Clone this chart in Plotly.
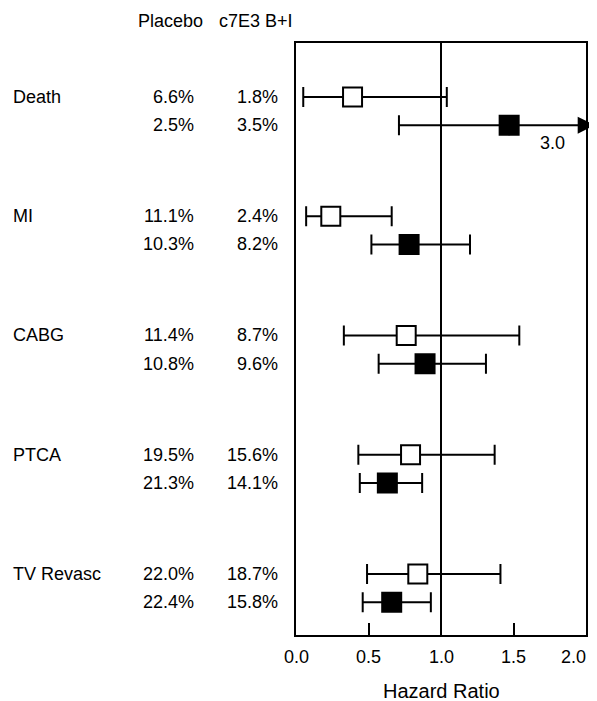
import plotly.graph_objects as go

# ---- data ----
outcomes = ["Death", "MI", "CABG", "PTCA", "TV Revasc"]
placebo_a = ["6.6%", "11.1%", "11.4%", "19.5%", "22.0%"]
c7e3_a = ["1.8%", "2.4%", "8.7%", "15.6%", "18.7%"]
placebo_b = ["2.5%", "10.3%", "10.8%", "21.3%", "22.4%"]
c7e3_b = ["3.5%", "8.2%", "9.6%", "14.1%", "15.8%"]

hr_open = [0.39, 0.24, 0.76, 0.79, 0.84]
lo_open = [0.05, 0.07, 0.33, 0.43, 0.49]
hi_open = [1.04, 0.66, 1.54, 1.37, 1.41]

hr_fill = [1.47, 0.78, 0.89, 0.63, 0.66]
lo_fill = [0.71, 0.52, 0.57, 0.44, 0.46]
hi_fill = [3.0, 1.20, 1.31, 0.87, 0.93]

tick_vals = [0.0, 0.5, 1.0, 1.5, 2.0]
tick_text = ["0.0", "0.5", "1.0", "1.5", "2.0"]
x_max = 2.0

FONT = "Liberation Sans, Arial, Helvetica, sans-serif"
FS = 18
TXT = dict(family=FONT, size=FS, color="black")

n = len(outcomes)
y_open = [i for i in range(n)]
y_fill = [i + 0.2365 for i in range(n)]

fig = go.Figure()

# reference line at HR = 1
fig.add_shape(type="line", xref="x", yref="paper", x0=1.0, x1=1.0, y0=0, y1=1,
              line=dict(color="black", width=2), layer="below")

# open squares (first row of each outcome)
fig.add_trace(go.Scatter(
    x=hr_open, y=y_open, mode="markers",
    marker=dict(symbol="square", size=19, color="white", line=dict(color="black", width=2)),
    error_x=dict(type="data", symmetric=False,
                 array=[h - m for h, m in zip(hi_open, hr_open)],
                 arrayminus=[m - l for l, m in zip(lo_open, hr_open)],
                 color="black", thickness=2, width=10),
    showlegend=False, hoverinfo="skip"))

# filled squares (second row)
up = [(h - m) if h <= x_max else 0 for h, m in zip(hi_fill, hr_fill)]
fig.add_trace(go.Scatter(
    x=hr_fill, y=y_fill, mode="markers",
    marker=dict(symbol="square", size=19, color="black", line=dict(color="black", width=2)),
    error_x=dict(type="data", symmetric=False,
                 array=up,
                 arrayminus=[m - l for l, m in zip(lo_fill, hr_fill)],
                 color="black", thickness=2, width=10),
    showlegend=False, hoverinfo="skip"))

annotations = []
# arrows for CIs beyond axis + value label
for i, (h, m) in enumerate(zip(hi_fill, hr_fill)):
    if h > x_max:
        annotations.append(dict(x=x_max * 1.03, y=y_fill[i], xref="x", yref="y",
                                ax=m, ay=y_fill[i], axref="x", ayref="y",
                                text="", showarrow=True, arrowhead=2, arrowsize=1.7,
                                arrowwidth=2, arrowcolor="black", standoff=0, startstandoff=0))
        annotations.append(dict(x=1.77, y=y_fill[i], xref="x", yref="y", yshift=-18,
                                text=f"{h:.1f}", showarrow=False, yanchor="middle", font=TXT))

# left-hand table
for i in range(n):
    annotations.append(dict(x=-0.974, y=y_open[i], xref="paper", yref="y", text=outcomes[i],
                            showarrow=False, xanchor="left", yanchor="middle", xshift=-3, font=TXT))
    for xp, txt, yy in [(-0.3545, placebo_a[i], y_open[i]), (-0.0668, c7e3_a[i], y_open[i]),
                        (-0.3545, placebo_b[i], y_fill[i]), (-0.0668, c7e3_b[i], y_fill[i])]:
        annotations.append(dict(x=xp, y=yy, xref="paper", yref="y", text=txt,
                                showarrow=False, xanchor="right", yanchor="middle", xshift=3, font=TXT))

# headers
annotations.append(dict(x=-0.5428, y=1.037, xref="paper", yref="paper", text="Placebo",
                        showarrow=False, xanchor="left", yanchor="middle", xshift=-3, font=TXT))
annotations.append(dict(x=-0.262, y=1.037, xref="paper", yref="paper", text="c7E3 B+I",
                        showarrow=False, xanchor="left", yanchor="middle", xshift=-3, font=TXT))

# tick labels
for v, t in zip(tick_vals, tick_text):
    anchor = "right" if v >= x_max else "center"
    annotations.append(dict(x=v / x_max, y=-0.037, xref="paper", yref="paper", text=t,
                            showarrow=False, xanchor=anchor, yanchor="middle",
                            xshift=2 if anchor == "right" else 0, font=TXT))

# axis title
annotations.append(dict(x=0.5, y=-0.0946, xref="paper", yref="paper", text="Hazard Ratio",
                        showarrow=False, yanchor="middle",
                        font=dict(family=FONT, size=20, color="black")))

fig.update_layout(
    width=589, height=693,
    margin=dict(l=288, r=9, t=35, b=66),
    paper_bgcolor="white", plot_bgcolor="white",
    xaxis=dict(range=[0, x_max], showgrid=False, zeroline=False,
               showline=True, mirror=True, linecolor="black", linewidth=2,
               ticks="inside", ticklen=12, tickwidth=2, tickcolor="black",
               tickvals=tick_vals, showticklabels=False, fixedrange=True),
    yaxis=dict(range=[4.512, -0.453], showgrid=False, zeroline=False,
               showline=True, mirror=True, linecolor="black", linewidth=2,
               showticklabels=False, ticks="", fixedrange=True),
    annotations=annotations,
    showlegend=False,
)

fig.write_html("out.html")
